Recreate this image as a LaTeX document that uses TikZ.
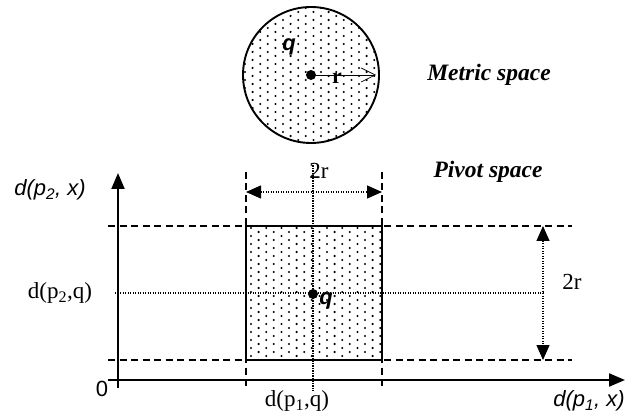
\documentclass[tikz,border=0pt]{standalone}
\usepackage{fontspec}
\setmainfont{Liberation Serif}
\setsansfont{Liberation Sans}
\usetikzlibrary{arrows.meta}
\tikzset{
  axis/.style={line width=2pt, -{Triangle[length=16pt,width=13pt]}},
  guide/.style={line width=1.7pt, dash pattern=on 7pt off 4.5pt},
  aux/.style={line width=1.3pt, dash pattern=on 1.3pt off 1.2pt},
  span/.style={aux, {Triangle[length=15pt,width=13pt]}-{Triangle[length=15pt,width=13pt]}},
  lbl/.style={font=\fontsize{23}{27}\selectfont, inner sep=0pt},
  ttl/.style={font=\fontsize{23.5}{28}\selectfont\bfseries\itshape, inner sep=0pt},
  axlbl/.style={font=\fontsize{22}{26}\selectfont\sffamily\itshape, inner sep=0pt},
  qlbl/.style={font=\fontsize{22}{26}\selectfont\sffamily\bfseries\itshape, inner sep=0pt},
}
% stippled fill: x0, y0, columns, rows
\newcommand{\stipple}[4]{%
  \foreach \k in {0,...,#3}{
    \foreach \m in {0,...,#4}{
      \fill ({#1+7.6*\k},{#2+8*\m+4*mod(\k,2)}) circle (1.15pt);
    }
  }
}

\begin{document}
\begin{tikzpicture}[x=1pt, y=-1pt]
  \useasboundingbox (0,0) rectangle (626,419);

  % metric space: the query ball
  \coordinate (q) at (311,75);
  \coordinate (rtip) at (376,75);
  \begin{scope}
    \clip (q) circle (68pt);
    \stipple{245}{8}{18}{17}
  \end{scope}
  \draw[line width=1.9pt] (q) circle (68pt);
  \fill (q) circle (5pt);
  \draw[line width=0.7pt, -{Straight Barb[length=14pt,width=14pt]}] (q) -- (rtip);
  \node[lbl, font=\fontsize{22}{26}\selectfont\bfseries] (rlbl) at (337,78) {r};
  \node[qlbl] (qtop) at (289,47) {q};
  \node[ttl] (metric) at (489,75) {Metric space};

  % pivot space
  \node[ttl] (pivot) at (488,172) {Pivot space};
  \coordinate (ytip) at (118,173);
  \coordinate (ybot) at (118,388);
  \coordinate (xbeg) at (108,380);
  \coordinate (xtip) at (625,380);
  \coordinate (sq1) at (246,226);
  \coordinate (sq2) at (382,360);
  \coordinate (c) at (313,294);

  \begin{scope}
    \clip (sq1) rectangle (sq2);
    \stipple{251}{228}{18}{17}
  \end{scope}
  \draw[line width=2pt] (sq1) rectangle (sq2);

  % guides
  \draw[guide] (108,226) -- (572,226);
  \draw[guide] (108,360) -- (572,360);
  \draw[guide] (246,172) -- (246,386);
  \draw[guide] (382,172) -- (382,386);
  \draw[aux] (313,163) -- (313,391);
  \draw[aux] (115,293) -- (543,293);

  % axes
  \draw[axis] (ybot) -- (ytip);
  \draw[axis] (xbeg) -- (xtip);

  % extent of the box
  \coordinate (tl) at (246,192);
  \coordinate (tr) at (382,192);
  \coordinate (rt) at (543,226);
  \coordinate (rb) at (543,360);
  \draw[span] (tl) -- (tr);
  \draw[span] (rt) -- (rb);
  \fill (c) circle (5pt);

  % labels
  \node[lbl] (w) at (319,171) {2r};
  \node[lbl] (h) at (572,282) {2r};
  \node[qlbl] (qbox) at (326,301) {q};
  \node[axlbl] (ylbl) at (50,190) {d(p\textsubscript{2}, x)};
  \node[axlbl] (xlbl) at (589,401) {d(p\textsubscript{1}, x)};
  \node[font=\fontsize{22}{26}\selectfont\sffamily, inner sep=0pt] (zero) at (102,389) {0};
  \node[lbl] (py) at (60,293) {d(p\textsubscript{2},q)};
  \node[lbl] (px) at (297,401) {d(p\textsubscript{1},q)};
\end{tikzpicture}
\end{document}
